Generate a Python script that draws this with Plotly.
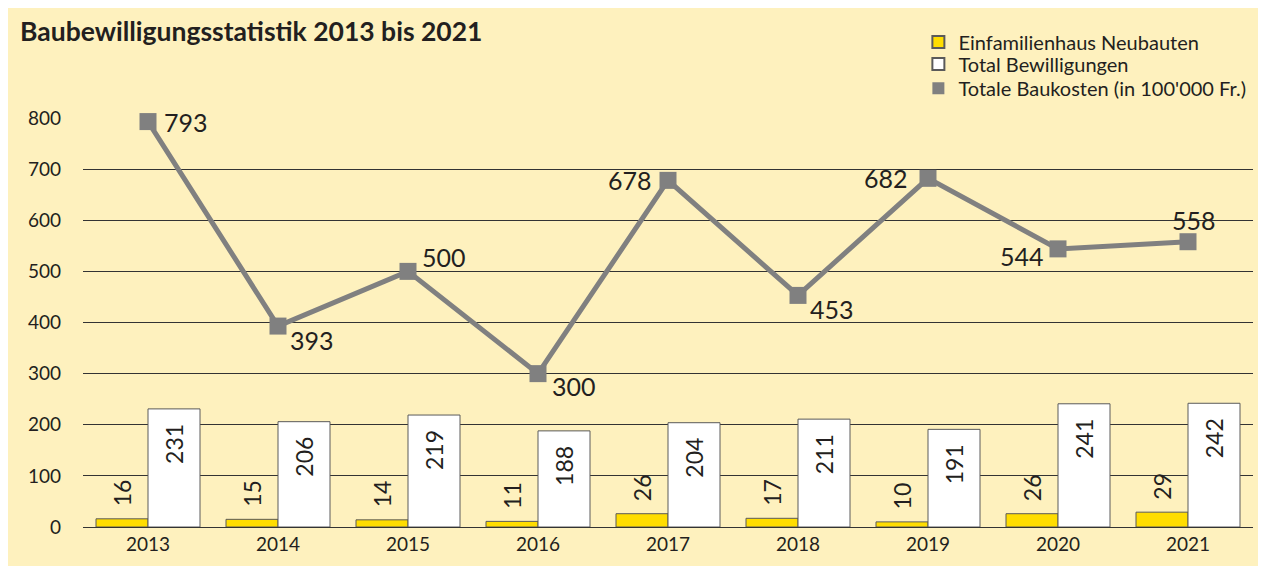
import plotly.graph_objects as go

years = ["2013", "2014", "2015", "2016", "2017", "2018", "2019", "2020", "2021"]
efh_neubauten = [16, 15, 14, 11, 26, 17, 10, 26, 29]
total_bewilligungen = [231, 206, 219, 188, 204, 211, 191, 241, 242]
baukosten = [793, 393, 500, 300, 678, 453, 682, 544, 558]
y_ticks = [0, 100, 200, 300, 400, 500, 600, 700, 800]

# label placement for line values: (xanchor, xshift, yshift)
line_label_pos = [
    ("left", 14, 0), ("left", 10, -14), ("left", 12, 14), ("left", 12, -12),
    ("right", -14, 0), ("left", 10, -14), ("right", -18, 0), ("right", -12, -7),
    ("center", 6, 22),
]

BG = "#FEF1BE"
FONT = "Lato, 'Open Sans', sans-serif"
TXT = "#231F20"

xpos = list(range(len(years)))
BAR_OFF = 0.2  # half of a bar's width within a group (bargap 0.2, two bars)

fig = go.Figure()
fig.add_trace(go.Bar(
    x=xpos, y=efh_neubauten, name="Einfamilienhaus Neubauten", legend="legend",
    marker=dict(color="#FFDD00", line=dict(color="#5a5a5a", width=1)),
))
fig.add_trace(go.Bar(
    x=xpos, y=total_bewilligungen, name="Total Bewilligungen", legend="legend2",
    marker=dict(color="#FFFFFF", line=dict(color="#5a5a5a", width=1)),
))
fig.add_trace(go.Scatter(
    x=xpos, y=baukosten, mode="lines+markers", name="Totale Baukosten (in 100'000 Fr.)",
    line=dict(color="#808080", width=5),
    marker=dict(symbol="square", size=17, color="#808080"),
    showlegend=False, cliponaxis=False,
))
# legend entry shown as a square
fig.add_trace(go.Scatter(
    x=[None], y=[None], mode="markers", name="Totale Baukosten (in 100'000 Fr.)",
    legend="legend3", marker=dict(symbol="square", size=13, color="#808080"),
))

for i, (v, (xa, xs, ys)) in enumerate(zip(baukosten, line_label_pos)):
    fig.add_annotation(x=i, y=v, text=str(v), showarrow=False,
                       xanchor=xa, yanchor="middle", xshift=xs, yshift=ys,
                       font=dict(size=25, color=TXT, family=FONT))

for i, v in enumerate(efh_neubauten):
    fig.add_annotation(x=i - BAR_OFF, y=v, text=str(v), showarrow=False,
                       textangle=-90, xanchor="center", yanchor="bottom", yshift=10,
                       font=dict(size=23, color=TXT, family=FONT))
for i, v in enumerate(total_bewilligungen):
    fig.add_annotation(x=i + BAR_OFF, y=v, text=str(v), showarrow=False,
                       textangle=-90, xanchor="center", yanchor="top", yshift=-13,
                       font=dict(size=23, color=TXT, family=FONT))

legend_style = dict(x=0.714, xanchor="left", yanchor="middle",
                    bgcolor="rgba(0,0,0,0)", font=dict(size=20, color=TXT, family=FONT),
                    itemsizing="constant")

fig.update_layout(
    width=1266, height=566,
    margin=dict(l=75, r=21, t=110, b=47),
    paper_bgcolor=BG, plot_bgcolor=BG,
    title=dict(text="<b>Baubewilligungsstatistik 2013 bis 2021</b>",
               xref="container", yref="container", x=12 / 1266, xanchor="left",
               y=1 - 24 / 566, yanchor="middle",
               font=dict(size=26.5, color=TXT, family=FONT)),
    barmode="group", bargap=0.2, bargroupgap=0,
    font=dict(family=FONT, color=TXT),
    showlegend=True,
    legend=dict(y=1.186, **legend_style),
    legend2=dict(y=1.132, **legend_style),
    legend3=dict(y=1.073, **legend_style),
)
fig.update_xaxes(type="linear", range=[-0.5, len(years) - 0.5], tickvals=xpos,
                 ticktext=years, showgrid=False, showline=True, linecolor="#333333",
                 zeroline=False, linewidth=1, ticks="",
                 tickfont=dict(size=19, color=TXT, family=FONT))
fig.update_yaxes(range=[0, 800], tickvals=y_ticks, showgrid=True, gridcolor="#333333",
                 gridwidth=1, zeroline=True, zerolinecolor="#333333", zerolinewidth=1,
                 showline=False, ticks="", ticklabelstandoff=21,
                 tickfont=dict(size=19, color=TXT, family=FONT))

fig.write_html("out.html")
